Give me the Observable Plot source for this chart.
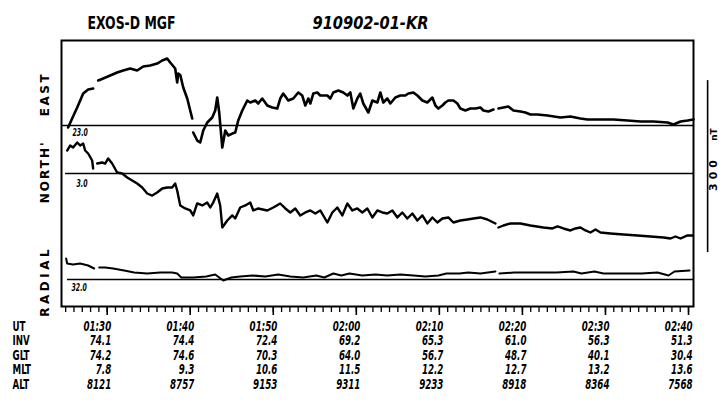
<!DOCTYPE html>
<html><head><meta charset="utf-8">
<script src="https://cdn.jsdelivr.net/npm/d3@7"></script>
<script src="https://cdn.jsdelivr.net/npm/@observablehq/plot@0.6"></script>
<style>body{margin:0;background:#fff}</style>
</head><body><div id="chart"></div>
<script>
// ---- table under the time axis (values per 10-minute tick) ----
const tickMinutes = [90, 100, 110, 120, 130, 140, 150, 160]; // UT in minutes after 00:00
const utLabels  = ["01:30","01:40","01:50","02:00","02:10","02:20","02:30","02:40"];
const invRow    = ["74.1","74.4","72.4","69.2","65.3","61.0","56.3","51.3"];
const gltRow    = ["74.2","74.6","70.3","64.0","56.7","48.7","40.1","30.4"];
const mltRow    = ["7.8","9.3","10.6","11.5","12.2","12.7","13.2","13.6"];
const altRow    = ["8121","8757","9153","9311","9233","8918","8364","7568"];
const rowNames  = ["UT","INV","GLT","MLT","ALT"];

// ---- field components: [UT minutes, deviation from baseline in nT]; null = data gap ----
const east = [
 [85.30,-3.5],[85.78,12.2],[86.39,31.4],[87.11,55.8],[87.71,62.8],[88.31,64.5],[88.60,null],
 [88.92,78.5],[89.52,82.0],[90.36,87.2],[91.20,92.4],[91.93,95.9],[92.77,99.4],[93.61,95.9],
 [94.34,102.9],[95.18,104.6],[96.02,108.1],[96.63,113.4],[97.23,116.8],[97.59,109.9],[98.19,99.4],
 [98.43,75.0],[98.55,90.7],[98.80,88.0],[99.16,66.3],[99.64,47.1],[100.00,26.2],[100.24,12.2],[100.30,null],
 [100.36,-12.2],[100.84,-26.2],[101.20,-29.6],[101.57,-8.7],[102.05,5.2],[102.65,14.0],[103.01,26.2],
 [103.25,48.8],[103.49,22.7],[103.86,-38.4],[104.22,-8.7],[104.58,-17.4],[105.06,-14.0],[105.42,-12.2],
 [105.78,8.7],[106.27,26.2],[106.87,43.6],[107.23,40.1],[107.83,43.6],[108.19,38.4],[108.67,47.1],
 [109.28,34.9],[109.88,31.4],[110.48,29.6],[110.84,47.1],[111.20,55.8],[111.81,43.6],[112.41,47.1],
 [113.01,57.6],[113.49,52.3],[113.86,34.9],[114.22,47.1],[114.46,38.4],[114.82,55.8],[115.30,57.6],
 [115.66,52.3],[116.51,52.3],[116.87,47.1],[117.23,57.6],[117.83,61.0],[118.43,57.6],[118.92,52.3],
 [119.28,57.6],[119.64,29.6],[120.12,47.1],[120.48,55.8],[120.84,38.4],[121.45,22.7],[121.93,43.6],
 [122.53,40.1],[122.89,57.6],[123.25,40.1],[123.73,47.1],[124.10,38.4],[124.70,48.8],[125.30,52.3],
 [125.90,52.3],[126.27,55.8],[126.87,57.6],[127.35,52.3],[127.95,43.6],[128.55,40.1],[129.16,48.8],
 [129.52,34.9],[129.88,29.6],[130.36,34.9],[130.72,40.1],[131.08,43.6],[131.69,43.6],[132.17,38.4],
 [132.53,29.6],[133.13,26.2],[133.73,29.6],[134.34,29.6],[134.94,31.4],[135.30,26.2],[135.90,24.4],
 [136.51,27.9],[136.80,null],[137.11,29.6],[137.71,31.4],[138.31,33.1],[138.92,26.2],[139.76,24.4],
 [140.36,22.7],[140.96,19.2],[141.81,19.2],[143.01,17.4],[144.58,14.0],[145.78,15.7],[146.99,12.2],
 [147.83,10.5],[149.40,10.5],[150.96,10.5],[152.65,8.7],[154.22,7.0],[155.78,7.0],[157.47,5.2],
 [158.19,1.7],[159.04,7.0],[159.88,8.7],[160.60,10.5]
];
const north = [
 [85.18,40.1],[85.54,48.8],[85.90,45.3],[86.39,54.1],[86.75,48.8],[87.11,52.3],[87.35,40.1],
 [87.71,34.9],[88.19,22.7],[88.31,8.7],[88.55,null],[88.80,17.4],[89.40,19.2],[89.76,17.4],
 [90.12,26.2],[90.60,17.4],[91.20,1.7],[91.81,0],[92.41,-7.0],[93.01,-12.2],[93.61,-17.4],
 [94.22,-24.4],[94.82,-34.9],[95.42,-38.4],[96.02,-33.1],[96.63,-26.2],[97.23,-24.4],[97.83,-24.4],
 [98.19,-17.4],[98.43,-29.6],[98.80,-55.8],[99.40,-61.0],[100.00,-64.5],[100.36,-73.2],[100.84,-52.3],
 [101.45,-55.8],[102.05,-50.6],[102.41,-59.3],[102.77,-50.6],[103.25,-34.9],[103.61,-55.8],[103.86,-94.2],
 [104.46,-82.0],[105.06,-73.2],[105.42,-78.5],[106.02,-59.3],[106.63,-55.8],[107.23,-50.6],[107.59,-64.5],
 [108.19,-61.0],[109.28,-64.5],[110.00,-59.3],[110.84,-52.3],[111.45,-61.0],[112.05,-68.0],[112.65,-61.0],
 [113.25,-73.2],[113.86,-68.0],[114.46,-64.5],[115.06,-69.8],[115.66,-64.5],[116.51,-85.5],[117.11,-68.0],
 [117.71,-59.3],[118.31,-73.2],[118.92,-52.3],[119.52,-64.5],[120.12,-61.0],[120.72,-68.0],[121.33,-61.0],
 [121.93,-76.7],[122.53,-64.5],[123.13,-68.0],[123.73,-69.8],[124.34,-64.5],[124.94,-76.7],[125.54,-68.0],
 [126.14,-78.5],[126.75,-69.8],[127.35,-82.0],[127.95,-73.2],[128.55,-87.2],[129.16,-76.7],[129.76,-85.5],
 [130.36,-78.5],[131.08,-76.7],[131.69,-85.5],[132.53,-82.0],[133.37,-80.2],[134.10,-78.5],[134.94,-76.7],
 [135.78,-80.2],[136.75,-87.2],[136.90,null],[137.11,-94.2],[137.71,-90.7],[138.55,-87.2],[139.76,-87.2],
 [140.96,-90.7],[142.53,-94.2],[143.61,-95.9],[144.22,-92.4],[144.94,-95.9],[145.78,-99.4],[146.39,-95.9],
 [146.99,-94.2],[147.59,-99.4],[148.19,-102.9],[148.80,-97.7],[149.40,-102.9],[150.60,-104.6],[152.17,-106.4],
 [153.86,-108.1],[155.42,-109.9],[156.99,-111.6],[157.83,-113.4],[158.43,-109.9],[159.04,-113.4],
 [159.88,-108.1],[160.48,-108.1]
];
const radial = [
 [85.06,36.6],[85.18,27.9],[85.90,26.2],[86.75,27.9],[87.71,24.4],[88.43,19.2],[88.70,null],
 [89.04,20.9],[89.76,20.9],[90.72,19.2],[92.05,15.7],[93.25,12.2],[94.82,10.5],[96.39,12.2],
 [97.83,12.2],[98.43,10.5],[98.92,3.5],[100.36,3.5],[101.93,5.2],[103.01,8.7],[103.49,3.5],
 [103.98,-1.7],[104.94,3.5],[106.02,5.2],[107.47,7.0],[109.04,5.2],[110.60,8.7],[112.05,5.2],
 [113.61,3.5],[115.18,7.0],[116.14,3.5],[117.23,10.5],[118.19,7.0],[119.16,10.5],[120.72,7.0],
 [122.29,8.7],[123.73,7.0],[125.30,8.7],[126.87,7.0],[128.31,5.2],[129.88,7.0],[130.84,10.5],
 [132.41,10.5],[133.49,12.2],[134.94,10.5],[136.75,14.0],[137.00,null],[137.23,10.5],[139.04,12.2],
 [141.57,12.2],[144.10,12.2],[146.14,14.0],[147.11,10.5],[148.67,14.0],[149.76,10.5],[151.69,10.5],
 [154.34,10.5],[156.27,12.2],[157.59,7.0],[158.31,14.0],[160.12,15.7]
];
const baselineLabels = ["23.0", "3.0", "32.0"];
const panelNames = ["EAST", "NORTH'", "RADIAL"];

// ---- layout in the stacked nT coordinate of the y scale ----
const EAST_BASE = 315.7, NORTH_BASE = 232.0, RADIAL_BASE = 47.1;
const NARROW = "'Liberation Sans Narrow','DejaVu Sans Condensed',sans-serif";
const SANS = "'DejaVu Sans',sans-serif";
const toRows = (arr, base) => arr.map(([t, v]) => ({t, y: v == null ? NaN : base + v}));

const rows = [utLabels, invRow, gltRow, mltRow, altRow];
const tableMarks = rows.map((row, i) => Plot.text(row, {
  x: (d, j) => tickMinutes[j], text: d => d, frameAnchor: "bottom", dy: 24 + 14.6 * i, dx: 4,
  textAnchor: "end", fontFamily: NARROW, fontWeight: "bold", fontStyle: "italic", fontSize: 14
}));
const rowNameMarks = rowNames.map((name, i) => Plot.text([name], {
  frameAnchor: "bottom-left", dx: -49, dy: 24 + 14.6 * i, textAnchor: "start",
  fontFamily: NARROW, fontWeight: "bold", fontSize: 14
}));
const bl = (txt, base, dx, dy) => Plot.text([txt], {frameAnchor: "left", y: base, dx, dy, textAnchor: "start",
  fontFamily: NARROW, fontWeight: "bold", fontStyle: "italic", fontSize: 10});
const side = (txt, y) => Plot.text([txt], {frameAnchor: "left", y, dx: -16, rotate: -90, textAnchor: "middle",
  fontFamily: SANS, fontWeight: "bold", fontSize: 12});

const chart = Plot.plot({
  width: 722, height: 411,
  marginLeft: 61, marginRight: 29, marginTop: 40, marginBottom: 105,
  x: {domain: [84.5, 160.6], label: null},
  y: {domain: [0, 464], axis: null},
  style: {background: "#fff", color: "#000"},
  marks: [
    Plot.frame({strokeWidth: 2}),
    Plot.axisX({ticks: d3.range(85, 161), tickSize: 6, tickFormat: () => "", strokeWidth: 1.3}),
    Plot.axisX({ticks: tickMinutes, tickSize: 9, tickFormat: () => "", strokeWidth: 1.6}),
    Plot.ruleY([EAST_BASE], {insetLeft: 1, strokeWidth: 1.5}),
    Plot.ruleY([NORTH_BASE], {insetLeft: 4, strokeWidth: 1.5}),
    Plot.ruleY([RADIAL_BASE], {insetLeft: 6, strokeWidth: 1.5}),
    Plot.line(toRows(east, EAST_BASE), {x: "t", y: "y", strokeWidth: 2.6}),
    Plot.line(toRows(north, NORTH_BASE), {x: "t", y: "y", strokeWidth: 2.4}),
    Plot.line(toRows(radial, RADIAL_BASE), {x: "t", y: "y", strokeWidth: 2}),
    bl(baselineLabels[0], EAST_BASE, 11, 7),
    bl(baselineLabels[1], NORTH_BASE, 15, 10),
    bl(baselineLabels[2], RADIAL_BASE, 10, 8),
    side(panelNames[0], EAST_BASE + 55),
    side(panelNames[1], NORTH_BASE + 3),
    side(panelNames[2], RADIAL_BASE - 3),
    // 300 nT scale bar
    Plot.ruleX([162.3], {y1: 94, y2: 394, strokeWidth: 1.6}),
    Plot.text(["300"], {x: 163.05, y: 232, rotate: -90, fontFamily: SANS, fontWeight: "bold", fontSize: 11}),
    Plot.text(["nT"], {x: 163.05, y: 300, rotate: -90, fontFamily: SANS, fontWeight: "bold", fontSize: 9}),
    // titles
    Plot.text(["EXOS-D MGF"], {frameAnchor: "top-left", dx: 26, dy: -24, textAnchor: "start",
      fontFamily: NARROW, fontWeight: "bold", fontSize: 17}),
    Plot.text(["910902-01-KR"], {frameAnchor: "top-left", dx: 251, dy: -24, textAnchor: "start",
      fontFamily: NARROW, fontWeight: "bold", fontStyle: "italic", fontSize: 17}),
    ...tableMarks,
    ...rowNameMarks
  ]
});
document.getElementById("chart").appendChild(chart);
const spacing = {"EAST": 2.5, "NORTH'": 2, "RADIAL": 3.5, "300": 4};
const exactLen = {"EXOS-D MGF": 88, "910902-01-KR": 116};
const tableTexts = new Set([...utLabels, ...invRow, ...gltRow, ...mltRow, ...altRow, ...rowNames, ...baselineLabels]);
d3.select(chart).selectAll("text").each(function () {
  const t = this.textContent;
  if (spacing[t]) this.setAttribute("letter-spacing", spacing[t]);
  if (exactLen[t]) {
    this.setAttribute("textLength", exactLen[t]);
    this.setAttribute("lengthAdjust", "spacingAndGlyphs");
  } else if (tableTexts.has(t)) {
    const w = this.getComputedTextLength();
    this.setAttribute("textLength", (w * 0.69).toFixed(1));
    this.setAttribute("lengthAdjust", "spacingAndGlyphs");
  }
});
</script>
</body></html>
